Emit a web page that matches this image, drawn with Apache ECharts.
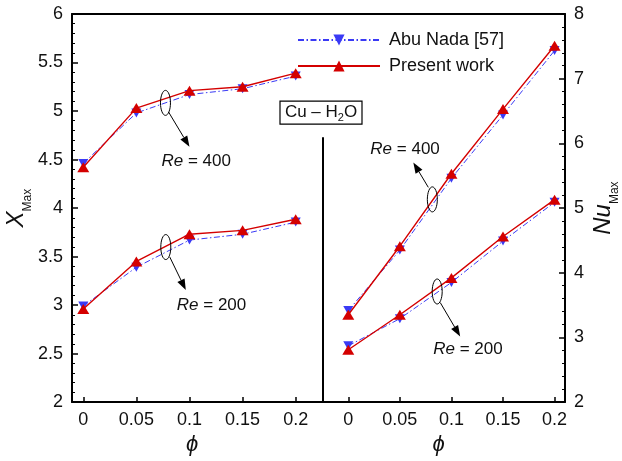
<!DOCTYPE html>
<html>
<head>
<meta charset="utf-8">
<script src="https://cdn.jsdelivr.net/npm/echarts@6/dist/echarts.min.js"></script>
<style>
  html, body { margin: 0; padding: 0; background: #ffffff; }
  #chart { width: 622px; height: 461px; }
</style>
</head>
<body>
<div id="chart"></div>
<script>
// Nanoparticle volume fraction (phi)
const phi = [0, 0.05, 0.1, 0.15, 0.2];
const phiTicks = [0, 0.05, 0.1, 0.15, 0.2];

// X_Max (left panel)
const xmaxAbuNada400 = [4.46, 4.98, 5.17, 5.23, 5.36];
const xmaxPresent400 = [4.42, 5.03, 5.21, 5.25, 5.39];
const xmaxAbuNada200 = [2.99, 3.39, 3.67, 3.73, 3.855];
const xmaxPresent200 = [2.96, 3.45, 3.73, 3.77, 3.885];

// Nu_Max (right panel)
const nuAbuNada400 = [3.415, 4.35, 5.46, 6.44, 7.435];
const nuPresent400 = [3.35, 4.41, 5.53, 6.53, 7.51];
const nuAbuNada200 = [2.87, 3.29, 3.85, 4.49, 5.09];
const nuPresent200 = [2.81, 3.35, 3.92, 4.56, 5.13];

const legendNames = ['Abu Nada [57]', 'Present work'];

const FONT = '"Liberation Sans", Arial, sans-serif';
const BLUE = '#3a3af5';
const RED = '#d40000';

const pairs = (xs, ys) => xs.map((x, i) => [x, ys[i]]);

function abuNada(data, panel) {
  return {
    name: legendNames[0], type: 'line', xAxisIndex: panel, yAxisIndex: panel,
    data: pairs(phi, data), symbol: 'triangle', symbolRotate: 180, symbolSize: [10, 9],
    itemStyle: { color: BLUE }, lineStyle: { color: BLUE, width: 1, type: [6, 2.5, 1.5, 2.5] },
    z: 2, silent: true
  };
}
function present(data, panel) {
  return {
    name: legendNames[1], type: 'line', xAxisIndex: panel, yAxisIndex: panel,
    data: pairs(phi, data), symbol: 'triangle', symbolSize: [12, 10],
    itemStyle: { color: RED }, lineStyle: { color: RED, width: 1.4 },
    z: 3, silent: true
  };
}

const tickLabel = { color: '#111', fontSize: 18, fontFamily: FONT };

function bottomAxis(gridIndex, min, max) {
  return {
    type: 'value', gridIndex, position: 'bottom', min, max,
    name: 'ϕ', nameLocation: 'middle', nameGap: 28,
    nameTextStyle: { fontSize: 22, fontStyle: 'italic', fontFamily: FONT, color: '#111', padding: [0, 11, 0, 0] },
    axisLine: { show: true, onZero: false, lineStyle: { color: '#000', width: 2 } },
    axisTick: { show: true, inside: true, length: 5, customValues: phiTicks, lineStyle: { color: '#000', width: 1.5 } },
    axisLabel: { show: true, margin: 9, customValues: phiTicks, formatter: v => String(+v.toFixed(2)), ...tickLabel },
    splitLine: { show: false }
  };
}
function topAxis(gridIndex, min, max) {
  return {
    type: 'value', gridIndex, position: 'top', min, max,
    axisLine: { show: true, onZero: false, lineStyle: { color: '#000', width: 2 } },
    axisTick: { show: false }, axisLabel: { show: false }, splitLine: { show: false }
  };
}

const option = {
  animation: false,
  backgroundColor: '#ffffff',
  grid: [
    { left: 72, top: 14, width: 251, height: 393 },
    { left: 323, top: 14, width: 249, height: 393 }
  ],
  legend: {
    data: legendNames, orient: 'vertical', left: 292, top: 26,
    itemWidth: 82, itemHeight: 14, itemGap: 8,
    textStyle: { fontSize: 18, fontFamily: FONT, color: '#111', padding: [0, 0, 0, 4], lineHeight: 18 },
    selectedMode: false
  },
  xAxis: [
    bottomAxis(0, -0.0106, 0.2257),
    bottomAxis(1, -0.0245, 0.2101),
    topAxis(0, -0.0106, 0.2257),
    topAxis(1, -0.0245, 0.2101)
  ],
  yAxis: [
    {
      type: 'value', gridIndex: 0, position: 'left', min: 2, max: 6, interval: 0.5,
      name: '{i|X}{s|Max}', nameLocation: 'middle', nameRotate: 90, nameGap: 38,
      nameTextStyle: {
        rich: {
          i: { fontSize: 24, fontStyle: 'italic', fontFamily: FONT, color: '#111', padding: [0, 0, 6, 0], verticalAlign: 'bottom' },
          s: { fontSize: 12, fontFamily: FONT, color: '#111', verticalAlign: 'bottom' }
        }
      },
      axisLine: { show: true, onZero: false, lineStyle: { color: '#000', width: 2 } },
      axisTick: { show: true, inside: true, length: 6, lineStyle: { color: '#000', width: 1.5 } },
      minorTick: { show: true, splitNumber: 5, length: 3, lineStyle: { color: '#000', width: 1 } },
      axisLabel: { margin: 9, ...tickLabel },
      splitLine: { show: false }
    },
    {
      type: 'value', gridIndex: 1, position: 'right', min: 2, max: 8, interval: 1,
      name: '{i|Nu}{s|Max}', nameLocation: 'middle', nameRotate: 90, nameGap: 26,
      nameTextStyle: {
        rich: {
          i: { fontSize: 24, fontStyle: 'italic', fontFamily: FONT, color: '#111', padding: [0, 0, 6, 0], verticalAlign: 'bottom' },
          s: { fontSize: 12, fontFamily: FONT, color: '#111', verticalAlign: 'bottom' }
        }
      },
      axisLine: { show: true, onZero: false, lineStyle: { color: '#000', width: 2 } },
      axisTick: { show: true, inside: true, length: 6, lineStyle: { color: '#000', width: 1.5 } },
      minorTick: { show: true, splitNumber: 5, length: 3, lineStyle: { color: '#000', width: 1 } },
      axisLabel: { margin: 9, ...tickLabel },
      splitLine: { show: false }
    }
  ],
  series: [
    abuNada(xmaxAbuNada400, 0), present(xmaxPresent400, 0),
    abuNada(xmaxAbuNada200, 0), present(xmaxPresent200, 0),
    abuNada(nuAbuNada400, 1), present(nuPresent400, 1),
    abuNada(nuAbuNada200, 1), present(nuPresent200, 1)
  ]
};

const chart = echarts.init(document.getElementById('chart'), null, { renderer: 'canvas' });
chart.setOption(option);

// Re annotations: ellipse around each pair of curves, an arrow and a label.
// Ellipse centre in data units; arrow and label given as pixel offsets from it.
const annotations = [
  { grid: 0, at: [0.0774, 5.084], arrow: [[3, 9], [24, 44]], label: [-4, 58], text: ' = 400' },
  { grid: 0, at: [0.0777, 3.598], arrow: [[4, 10], [20, 43]], label: [11, 58], text: ' = 200' },
  { grid: 1, at: [0.0815, 5.134], arrow: [[-4, -12], [-19, -37]], label: [-62, -50], text: ' = 400' },
  { grid: 1, at: [0.0862, 3.710], arrow: [[3, 11], [23, 45]], label: [-4, 58], text: ' = 200' }
];

const graphics = [];
annotations.forEach(a => {
  const [cx, cy] = chart.convertToPixel({ gridIndex: a.grid }, a.at);
  graphics.push({
    type: 'ellipse', shape: { cx, cy, rx: 5, ry: 12.5 },
    style: { fill: 'none', stroke: '#000', lineWidth: 1 }, z: 10, silent: true
  });
  const x1 = cx + a.arrow[0][0], y1 = cy + a.arrow[0][1];
  const x2 = cx + a.arrow[1][0], y2 = cy + a.arrow[1][1];
  const ang = Math.atan2(y2 - y1, x2 - x1);
  const hl = 11, hw = 4;
  const bx = x2 - hl * Math.cos(ang), by = y2 - hl * Math.sin(ang);
  graphics.push({
    type: 'line', shape: { x1, y1, x2: bx, y2: by },
    style: { stroke: '#000', lineWidth: 1 }, z: 10, silent: true
  });
  graphics.push({
    type: 'polygon',
    shape: { points: [[x2, y2], [bx + hw * Math.sin(ang), by - hw * Math.cos(ang)], [bx - hw * Math.sin(ang), by + hw * Math.cos(ang)]] },
    style: { fill: '#000' }, z: 10, silent: true
  });
  graphics.push({
    type: 'text', x: cx + a.label[0], y: cy + a.label[1], z: 10, silent: true,
    style: {
      text: '{i|Re}{n|' + a.text + '}', align: 'left', verticalAlign: 'middle',
      rich: {
        i: { fontSize: 17, fontStyle: 'italic', fontFamily: FONT, fill: '#111' },
        n: { fontSize: 17, fontFamily: FONT, fill: '#111' }
      }
    }
  });
});

// Divider between the two panels, and the fluid tag above it
const [divX, divTop] = chart.convertToPixel({ gridIndex: 0 }, [0.2257, 4.73]);
const [, divBottom] = chart.convertToPixel({ gridIndex: 0 }, [0.2257, 2]);
graphics.push({
  type: 'line', shape: { x1: divX, y1: divTop, x2: divX, y2: divBottom },
  style: { stroke: '#000', lineWidth: 2 }, z: 10, silent: true
});
const boxW = 82, boxH = 23, boxTop = divTop - 36;
graphics.push({
  type: 'rect', shape: { x: divX - 2 - boxW / 2, y: boxTop, width: boxW, height: boxH },
  style: { fill: '#fff', stroke: '#000', lineWidth: 1.2 }, z: 10, silent: true
});
graphics.push({
  type: 'text', x: divX - 2, y: boxTop + boxH / 2 + 1, z: 11, silent: true,
  style: {
    text: '{n|Cu – H}{s|2}{n|O}', align: 'center', verticalAlign: 'middle',
    rich: {
      n: { fontSize: 17, fontFamily: FONT, fill: '#111', verticalAlign: 'bottom', padding: [0, 0, 3, 0] },
      s: { fontSize: 11, fontFamily: FONT, fill: '#111', verticalAlign: 'bottom' }
    }
  }
});

chart.setOption({ graphic: graphics });
</script>
</body>
</html>
